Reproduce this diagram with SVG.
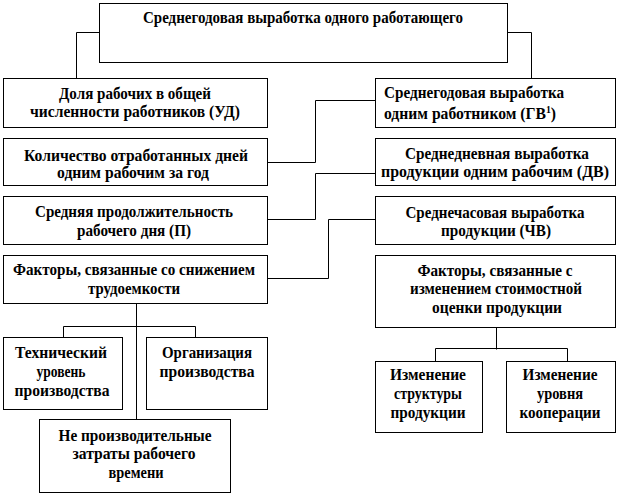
<svg xmlns="http://www.w3.org/2000/svg" width="618" height="494" viewBox="0 0 618 494">
<style>
rect{fill:#fff;stroke:#000;stroke-width:1}
.c path{fill:none;stroke:#000;stroke-width:1}
text{font-family:'Liberation Serif','Times New Roman',serif;font-weight:bold;font-size:16px;fill:#000;text-anchor:middle}
.l{text-anchor:start}
</style>
<rect x="0" y="0" width="618" height="494" style="stroke:none"/>
<g class="c" id="connectors">
<path d="M99.5,32.5H76.5V78.5"/>
<path d="M507.5,32.5H531.5V78.5"/>
<path d="M267.5,162.5H315.5V100.5H375.5"/>
<path d="M267.5,219.5H315.5V173.5H375.5"/>
<path d="M267.5,278.5H328.5V219.5H375.5"/>
<path d="M136.5,303.5V419.5"/>
<path d="M63.5,337.5V326.5H195.5V337.5"/>
<path d="M496.5,327.5V349.5"/>
<path d="M435.5,361.5V348.5H567.5V361.5"/>
</g>
<g id="n-top"><rect x="99.5" y="3.5" width="408" height="59"/><text x="303" y="23" textLength="320" lengthAdjust="spacingAndGlyphs">Среднегодовая выработка одного работающего</text></g>
<g id="n-ud"><rect x="3.5" y="78.5" width="264" height="49"/><text x="135" y="99" textLength="152" lengthAdjust="spacingAndGlyphs">Доля рабочих в общей</text><text x="135" y="117" textLength="210" lengthAdjust="spacingAndGlyphs">численности работников (УД)</text></g>
<g id="n-days"><rect x="3.5" y="138.5" width="264" height="47"/><text x="136" y="161" textLength="224" lengthAdjust="spacingAndGlyphs">Количество отработанных дней</text><text x="133" y="178" textLength="152" lengthAdjust="spacingAndGlyphs">одним рабочим за год</text></g>
<g id="n-p"><rect x="3.5" y="196.5" width="264" height="48"/><text x="134" y="217" textLength="198" lengthAdjust="spacingAndGlyphs">Средняя продолжительность</text><text x="134" y="236" textLength="114" lengthAdjust="spacingAndGlyphs">рабочего дня (П)</text></g>
<g id="n-fl"><rect x="3.5" y="255.5" width="264" height="48"/><text x="134" y="275" textLength="242" lengthAdjust="spacingAndGlyphs">Факторы, связанные со снижением</text><text x="134" y="294" textLength="92" lengthAdjust="spacingAndGlyphs">трудоемкости</text></g>
<g id="n-tech"><rect x="3.5" y="337.5" width="119" height="72"/><text x="61" y="358" textLength="92" lengthAdjust="spacingAndGlyphs">Технический</text><text x="61" y="377" textLength="49" lengthAdjust="spacingAndGlyphs">уровень</text><text x="62" y="396" textLength="95" lengthAdjust="spacingAndGlyphs">производства</text></g>
<g id="n-org"><rect x="146.5" y="337.5" width="121" height="72"/><text x="207" y="358" textLength="90" lengthAdjust="spacingAndGlyphs">Организация</text><text x="207" y="377" textLength="95" lengthAdjust="spacingAndGlyphs">производства</text></g>
<g id="n-ne"><rect x="39.5" y="419.5" width="191" height="73"/><text x="135" y="441" textLength="153" lengthAdjust="spacingAndGlyphs">Не производительные</text><text x="134" y="459" textLength="123" lengthAdjust="spacingAndGlyphs">затраты рабочего</text><text x="136" y="478" textLength="55" lengthAdjust="spacingAndGlyphs">времени</text></g>
<g id="n-gv"><rect x="375.5" y="78.5" width="240" height="49"/><text class="l" x="384" y="98" textLength="180" lengthAdjust="spacingAndGlyphs">Среднегодовая выработка</text><text class="l" x="384" y="119" textLength="172" lengthAdjust="spacingAndGlyphs">одним работником (ГВ<tspan font-size="10" dy="-6">1</tspan><tspan dy="6">)</tspan></text></g>
<g id="n-dv"><rect x="375.5" y="138.5" width="240" height="47"/><text x="497" y="159" textLength="184" lengthAdjust="spacingAndGlyphs">Среднедневная выработка</text><text x="495" y="177" textLength="228" lengthAdjust="spacingAndGlyphs">продукции одним рабочим (ДВ)</text></g>
<g id="n-chv"><rect x="375.5" y="196.5" width="240" height="48"/><text x="495" y="218" textLength="179" lengthAdjust="spacingAndGlyphs">Среднечасовая выработка</text><text x="496" y="236" textLength="110" lengthAdjust="spacingAndGlyphs">продукции (ЧВ)</text></g>
<g id="n-fr"><rect x="375.5" y="255.5" width="240" height="72"/><text x="495" y="276" textLength="155" lengthAdjust="spacingAndGlyphs">Факторы, связанные с</text><text x="496" y="294" textLength="172" lengthAdjust="spacingAndGlyphs">изменением стоимостной</text><text x="497" y="313" textLength="130" lengthAdjust="spacingAndGlyphs">оценки продукции</text></g>
<g id="n-struct"><rect x="375.5" y="361.5" width="107" height="71"/><text x="428" y="380" textLength="76" lengthAdjust="spacingAndGlyphs">Изменение</text><text x="428" y="399" textLength="68" lengthAdjust="spacingAndGlyphs">структуры</text><text x="428" y="418" textLength="75" lengthAdjust="spacingAndGlyphs">продукции</text></g>
<g id="n-coop"><rect x="506.5" y="361.5" width="109" height="71"/><text x="560" y="380" textLength="75" lengthAdjust="spacingAndGlyphs">Изменение</text><text x="560" y="399" textLength="46" lengthAdjust="spacingAndGlyphs">уровня</text><text x="560" y="418" textLength="81" lengthAdjust="spacingAndGlyphs">кооперации</text></g>
</svg>
